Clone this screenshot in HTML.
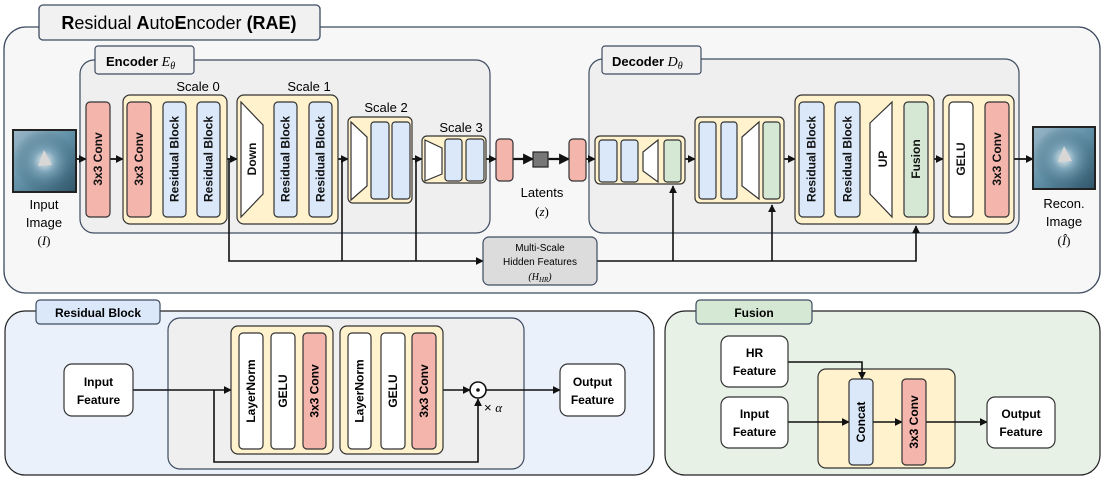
<!DOCTYPE html>
<html><head><meta charset="utf-8"><style>
html,body{margin:0;padding:0;background:#fff;}
svg{display:block;font-family:"Liberation Sans",sans-serif;}
.b{font-weight:bold;}
</style></head><body>
<svg width="1104" height="480" viewBox="0 0 1104 480" xmlns="http://www.w3.org/2000/svg">
<defs>
<marker id="a" viewBox="0 0 10 10" refX="9" refY="5" markerWidth="5" markerHeight="5" orient="auto"><path d="M0,0L10,5L0,10z" fill="#111"/></marker>
<linearGradient id="img" x1="0" y1="0" x2="1" y2="1"><stop offset="0" stop-color="#9bb8c8"/><stop offset="0.5" stop-color="#5f8fa6"/><stop offset="1" stop-color="#2f5468"/></linearGradient>
<radialGradient id="img2" cx="0.5" cy="0.5" r="0.5"><stop offset="0" stop-color="#e8eef0"/><stop offset="0.35" stop-color="#7fa6ba"/><stop offset="1" stop-color="#3c6579" stop-opacity="0"/></radialGradient>
</defs>

<!-- RAE outer -->
<rect x="4" y="27" width="1096" height="266" rx="22" fill="#f7f7f7" stroke="#3e4b61" stroke-width="1.3"/>
<rect x="39" y="5" width="281" height="35" rx="4" fill="#f1f1f1" stroke="#3e4b61" stroke-width="1.3"/>
<text x="179" y="29" text-anchor="middle" font-size="18"><tspan class="b">R</tspan>esidual <tspan class="b">A</tspan>uto<tspan class="b">E</tspan>ncoder <tspan class="b">(RAE)</tspan></text>

<!-- Encoder box -->
<rect x="80" y="60" width="410" height="173" rx="14" fill="#efefef" stroke="#3e4b61" stroke-width="1.2"/>
<rect x="95" y="46" width="99" height="28" rx="3" fill="#f1f1f1" stroke="#3e4b61" stroke-width="1.2"/>
<text x="106" y="66" font-size="13" class="b">Encoder <tspan font-family="Liberation Serif" font-style="italic" font-weight="normal" font-size="14">E</tspan><tspan font-family="Liberation Serif" font-style="italic" font-weight="normal" font-size="10" dy="3">θ</tspan></text>

<!-- Decoder box -->
<rect x="589" y="59" width="430" height="174" rx="14" fill="#efefef" stroke="#3e4b61" stroke-width="1.2"/>
<rect x="602" y="46" width="99" height="28" rx="3" fill="#f1f1f1" stroke="#3e4b61" stroke-width="1.2"/>
<text x="612" y="66" font-size="13" class="b">Decoder <tspan font-family="Liberation Serif" font-style="italic" font-weight="normal" font-size="14">D</tspan><tspan font-family="Liberation Serif" font-style="italic" font-weight="normal" font-size="10" dy="3">θ</tspan></text>

<!-- main flow line -->
<g stroke="#111" stroke-width="1.6" fill="none">
<line x1="76" y1="159" x2="1033" y2="159"/>
<!-- skip lines -->
<polyline points="229,159 229,261 483,261" marker-end="url(#a)"/>
<line x1="342" y1="159" x2="342" y2="261"/>
<line x1="416" y1="159" x2="416" y2="261"/>
<polyline points="597,261 916,261 916,226" marker-end="url(#a)"/>
<line x1="673" y1="261" x2="673" y2="186" marker-end="url(#a)"/>
<line x1="772" y1="261" x2="772" y2="205" marker-end="url(#a)"/>
</g>
<!-- arrowheads along main flow -->
<g stroke="#111" stroke-width="1.6" fill="none">
<line x1="76" y1="159" x2="86" y2="159" marker-end="url(#a)"/>
<line x1="110" y1="159" x2="123" y2="159" marker-end="url(#a)"/>
<line x1="151" y1="159" x2="163" y2="159" marker-end="url(#a)"/>
<line x1="186" y1="159" x2="197" y2="159" marker-end="url(#a)"/>
<line x1="227" y1="159" x2="237" y2="159" marker-end="url(#a)"/>
<line x1="263" y1="159" x2="274" y2="159" marker-end="url(#a)"/>
<line x1="297" y1="159" x2="309" y2="159" marker-end="url(#a)"/>
<line x1="338" y1="159" x2="348" y2="159" marker-end="url(#a)"/>
<line x1="412" y1="159" x2="422" y2="159" marker-end="url(#a)"/>
<line x1="486" y1="159" x2="496" y2="159" marker-end="url(#a)"/>
<line x1="513" y1="159" x2="533" y2="159" marker-end="url(#a)" stroke-width="2.2"/>
<line x1="549" y1="159" x2="569" y2="159" marker-end="url(#a)" stroke-width="2.2"/>
<line x1="586" y1="159" x2="595" y2="159" marker-end="url(#a)"/>
<line x1="685" y1="159" x2="695" y2="159" marker-end="url(#a)"/>
<line x1="784" y1="159" x2="795" y2="159" marker-end="url(#a)"/>
<line x1="824" y1="159" x2="835" y2="159" marker-end="url(#a)"/>
<line x1="860" y1="159" x2="870" y2="159" marker-end="url(#a)"/>
<line x1="892" y1="159" x2="904" y2="159" marker-end="url(#a)"/>
<line x1="934" y1="159" x2="943" y2="159" marker-end="url(#a)"/>
<line x1="973" y1="159" x2="985" y2="159" marker-end="url(#a)"/>
<line x1="1014" y1="159" x2="1033" y2="159" marker-end="url(#a)"/>
</g>

<!-- input image -->
<rect x="13" y="130" width="63" height="62" fill="url(#img)" stroke="#222" stroke-width="2"/>
<rect x="13" y="130" width="63" height="62" fill="url(#img2)"/>
<path d="M38,166 L44,150 L52,165z" fill="#d9d6d6"/>
<text x="44" y="209" text-anchor="middle" font-size="13">Input</text>
<text x="44" y="227" text-anchor="middle" font-size="13">Image</text>
<text x="44" y="245" text-anchor="middle" font-size="13" font-family="Liberation Serif">(<tspan font-style="italic">I</tspan>)</text>

<g stroke="#333" stroke-width="1.2">
<!-- encoder conv -->
<rect x="86" y="102" width="24" height="115" rx="4" fill="#f4b5ad"/>
<!-- scale0 -->
<rect x="123" y="95" width="104" height="129" rx="7" fill="#fff2cc"/>
<rect x="127" y="102" width="24" height="115" rx="4" fill="#f4b5ad"/>
<rect x="163" y="102" width="23" height="115" rx="4" fill="#dae8fa"/>
<rect x="197" y="102" width="23" height="115" rx="4" fill="#dae8fa"/>
<!-- scale1 -->
<rect x="237" y="95" width="101" height="129" rx="7" fill="#fff2cc"/>
<path d="M241,102 L263,125 L263,194 L241,217z" fill="#fff"/>
<rect x="274" y="102" width="23" height="115" rx="4" fill="#dae8fa"/>
<rect x="309" y="102" width="23" height="115" rx="4" fill="#dae8fa"/>
<!-- scale2 -->
<rect x="348" y="117" width="64" height="86" rx="5" fill="#fff2cc"/>
<path d="M351,122 L367,137 L367,186 L351,200z" fill="#fff"/>
<rect x="371" y="122" width="18" height="77" rx="3" fill="#dae8fa"/>
<rect x="392" y="122" width="18" height="77" rx="3" fill="#dae8fa"/>
<!-- scale3 -->
<rect x="422" y="136" width="64" height="47" rx="5" fill="#fff2cc"/>
<path d="M425,140 L442,148 L442,174 L425,181z" fill="#fff"/>
<rect x="445" y="139" width="17" height="42" rx="3" fill="#dae8fa"/>
<rect x="466" y="139" width="18" height="42" rx="3" fill="#dae8fa"/>
<rect x="496" y="139" width="17" height="42" rx="4" fill="#f4b5ad"/>
<!-- latent -->
<rect x="533" y="152" width="15" height="15" fill="#777" stroke="#222"/>
<rect x="569" y="139" width="17" height="42" rx="4" fill="#f4b5ad"/>
<!-- D1 -->
<rect x="595" y="136" width="90" height="48" rx="5" fill="#fff2cc"/>
<rect x="599" y="140" width="18" height="42" rx="3" fill="#dae8fa"/>
<rect x="621" y="140" width="17" height="42" rx="3" fill="#dae8fa"/>
<path d="M643,152 L658,140 L658,182 L643,171z" fill="#fff"/>
<rect x="664" y="140" width="17" height="42" rx="3" fill="#d5e8d4"/>
<!-- D2 -->
<rect x="695" y="117" width="89" height="86" rx="5" fill="#fff2cc"/>
<rect x="699" y="122" width="17" height="77" rx="3" fill="#dae8fa"/>
<rect x="721" y="122" width="16" height="77" rx="3" fill="#dae8fa"/>
<path d="M742,137 L759,122 L759,199 L742,186z" fill="#fff"/>
<rect x="763" y="122" width="17" height="77" rx="3" fill="#d5e8d4"/>
<!-- D3 -->
<rect x="795" y="95" width="139" height="129" rx="7" fill="#fff2cc"/>
<rect x="799" y="102" width="25" height="115" rx="4" fill="#dae8fa"/>
<rect x="835" y="102" width="25" height="115" rx="4" fill="#dae8fa"/>
<path d="M870,123 L892,102 L892,217 L870,194z" fill="#fff"/>
<rect x="904" y="102" width="24" height="115" rx="4" fill="#d5e8d4"/>
<!-- D4 -->
<rect x="943" y="95" width="71" height="129" rx="7" fill="#fff2cc"/>
<rect x="949" y="102" width="24" height="115" rx="4" fill="#fff"/>
<rect x="985" y="102" width="24" height="115" rx="4" fill="#f4b5ad"/>
<!-- multiscale -->
<rect x="483" y="237" width="114" height="48" rx="6" fill="#dcdcdc" stroke="#3e4b61"/>
</g>

<!-- recon image -->
<rect x="1033" y="127" width="62" height="62" fill="url(#img)" stroke="#222" stroke-width="2"/>
<rect x="1033" y="127" width="62" height="62" fill="url(#img2)"/>
<path d="M1058,162 L1064,146 L1072,161z" fill="#d9d6d6"/>
<text x="1064" y="208" text-anchor="middle" font-size="13">Recon.</text>
<text x="1064" y="226" text-anchor="middle" font-size="13">Image</text>
<text x="1064" y="245" text-anchor="middle" font-size="13" font-family="Liberation Serif">(<tspan font-style="italic">Î</tspan>)</text>

<!-- scale labels -->
<g font-size="13" text-anchor="middle">
<text x="198" y="91">Scale 0</text>
<text x="309" y="91">Scale 1</text>
<text x="386" y="112">Scale 2</text>
<text x="461" y="132">Scale 3</text>
<text x="542" y="197">Latents</text>
<text x="542" y="216" font-family="Liberation Serif">(<tspan font-style="italic">z</tspan>)</text>
</g>
<g font-size="10" text-anchor="middle">
<text x="540" y="251">Multi-Scale</text>
<text x="540" y="265">Hidden Features</text>
<text x="540" y="280" font-family="Liberation Serif" font-style="italic">(H<tspan font-size="7" dy="2">HR</tspan><tspan dy="-2">)</tspan></text>
</g>

<!-- vertical labels top -->
<g font-size="12" font-weight="bold" text-anchor="middle" fill="#111">
<text transform="translate(98,159) rotate(-90)" dy="4">3x3 Conv</text>
<text transform="translate(139,159) rotate(-90)" dy="4">3x3 Conv</text>
<text transform="translate(174.5,159) rotate(-90)" dy="4">Residual Block</text>
<text transform="translate(208.5,159) rotate(-90)" dy="4">Residual Block</text>
<text transform="translate(252,159) rotate(-90)" dy="4">Down</text>
<text transform="translate(285.5,159) rotate(-90)" dy="4">Residual Block</text>
<text transform="translate(320.5,159) rotate(-90)" dy="4">Residual Block</text>
<text transform="translate(811.5,159) rotate(-90)" dy="4">Residual Block</text>
<text transform="translate(847.5,159) rotate(-90)" dy="4">Residual Block</text>
<text transform="translate(883,159) rotate(-90)" dy="4">UP</text>
<text transform="translate(916,159) rotate(-90)" dy="4">Fusion</text>
<text transform="translate(961,159) rotate(-90)" dy="4">GELU</text>
<text transform="translate(997,159) rotate(-90)" dy="4">3x3 Conv</text>
</g>

<!-- Residual Block panel -->
<rect x="5" y="311" width="649" height="164" rx="20" fill="#eaf1fb" stroke="#222" stroke-width="1.2"/>
<rect x="36" y="300" width="124" height="24" rx="4" fill="#dae8fa" stroke="#3e4b61" stroke-width="1.2"/>
<text x="98" y="317" text-anchor="middle" font-size="12" font-weight="bold">Residual Block</text>
<rect x="168" y="318" width="356" height="151" rx="12" fill="#efefef" stroke="#3e4b61" stroke-width="1.2"/>
<g stroke="#111" stroke-width="1.6" fill="none">
<line x1="133" y1="390" x2="231" y2="390" marker-end="url(#a)"/>
<polyline points="214,390 214,462 478,462 478,399" marker-end="url(#a)"/>
<line x1="443" y1="390" x2="470" y2="390" marker-end="url(#a)"/>
<line x1="486" y1="390" x2="560" y2="390" marker-end="url(#a)"/>
</g>
<circle cx="478" cy="390" r="8" fill="#fff" stroke="#111" stroke-width="1.6"/>
<circle cx="478" cy="390" r="1.8" fill="#111"/>
<text x="484" y="412" font-size="13">× <tspan font-family="Liberation Serif" font-style="italic">α</tspan></text>
<g stroke="#333" stroke-width="1.2">
<rect x="64" y="364" width="69" height="52" rx="8" fill="#fff"/>
<rect x="560" y="364" width="65" height="52" rx="8" fill="#fff"/>
<rect x="231" y="326" width="102" height="128" rx="7" fill="#fff2cc"/>
<rect x="239" y="333" width="24" height="116" rx="4" fill="#fff"/>
<rect x="271" y="333" width="24" height="116" rx="4" fill="#fff"/>
<rect x="303" y="333" width="23" height="116" rx="4" fill="#f4b5ad"/>
<rect x="340" y="326" width="103" height="128" rx="7" fill="#fff2cc"/>
<rect x="348" y="333" width="23" height="116" rx="4" fill="#fff"/>
<rect x="381" y="333" width="24" height="116" rx="4" fill="#fff"/>
<rect x="412" y="333" width="24" height="116" rx="4" fill="#f4b5ad"/>
</g>
<g font-size="12" font-weight="bold" text-anchor="middle">
<text x="98.5" y="386">Input</text><text x="98.5" y="404">Feature</text>
<text x="592.5" y="386">Output</text><text x="592.5" y="404">Feature</text>
<text transform="translate(251,391) rotate(-90)" dy="4">LayerNorm</text>
<text transform="translate(283,391) rotate(-90)" dy="4">GELU</text>
<text transform="translate(314.5,391) rotate(-90)" dy="4">3x3 Conv</text>
<text transform="translate(359.5,391) rotate(-90)" dy="4">LayerNorm</text>
<text transform="translate(393,391) rotate(-90)" dy="4">GELU</text>
<text transform="translate(424,391) rotate(-90)" dy="4">3x3 Conv</text>
</g>

<!-- Fusion panel -->
<rect x="665" y="311" width="435" height="164" rx="20" fill="#e8f1e6" stroke="#222" stroke-width="1.2"/>
<rect x="696" y="300" width="116" height="24" rx="4" fill="#d5e8d4" stroke="#3e4b61" stroke-width="1.2"/>
<text x="754" y="317" text-anchor="middle" font-size="12" font-weight="bold">Fusion</text>
<rect x="818" y="369" width="137" height="99" rx="8" fill="#fff2cc" stroke="#333" stroke-width="1.2"/>
<g stroke="#111" stroke-width="1.6" fill="none">
<polyline points="788,362 862,362 862,379" marker-end="url(#a)"/>
<line x1="788" y1="422" x2="849" y2="422" marker-end="url(#a)"/>
<line x1="873" y1="422" x2="902" y2="422" marker-end="url(#a)"/>
<line x1="926" y1="422" x2="987" y2="422" marker-end="url(#a)"/>
</g>
<g stroke="#333" stroke-width="1.2">
<rect x="721" y="336" width="67" height="51" rx="8" fill="#fff"/>
<rect x="721" y="397" width="67" height="51" rx="8" fill="#fff"/>
<rect x="987" y="397" width="68" height="51" rx="8" fill="#fff"/>
<rect x="849" y="379" width="24" height="86" rx="4" fill="#dae8fa"/>
<rect x="902" y="379" width="24" height="86" rx="4" fill="#f4b5ad"/>
</g>
<g font-size="12" font-weight="bold" text-anchor="middle">
<text x="754.5" y="357">HR</text><text x="754.5" y="375">Feature</text>
<text x="754.5" y="418">Input</text><text x="754.5" y="436">Feature</text>
<text x="1021" y="418">Output</text><text x="1021" y="436">Feature</text>
<text transform="translate(861,422) rotate(-90)" dy="4">Concat</text>
<text transform="translate(914,422) rotate(-90)" dy="4">3x3 Conv</text>
</g>
</svg>
</body></html>
